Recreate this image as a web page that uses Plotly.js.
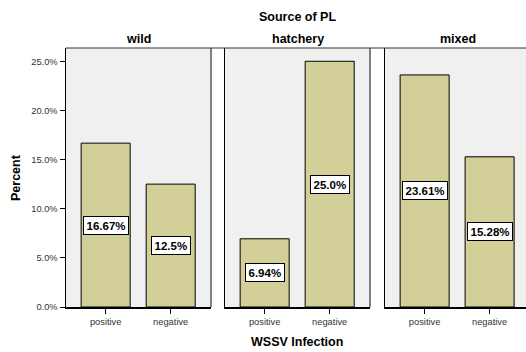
<!DOCTYPE html>
<html><head><meta charset="utf-8">
<script src="https://cdn.plot.ly/plotly-3.0.1.min.js"></script>
<style>html,body{margin:0;padding:0;background:#fff}#c{width:526px;height:352px}</style>
</head><body><div id="c"></div>
<script>
const categories = ["positive", "negative"];
const panels = ["wild", "hatchery", "mixed"];
const wildValues = [16.67, 12.5];
const hatcheryValues = [6.94, 25.0];
const mixedValues = [23.61, 15.28];
const wildLabels = ["16.67%", "12.5%"];
const hatcheryLabels = ["6.94%", "25.0%"];
const mixedLabels = ["23.61%", "15.28%"];
const yTicks = [0, 5, 10, 15, 20, 25];

const W = 526, H = 352;
const FONT = "Arial, 'Liberation Sans', sans-serif";
const px = v => v / W;
const py = v => 1 - v / H;
const xDomains = [[px(66), px(211)], [px(225), px(370)], [px(385), 1]];
const xRanges = [[-0.61, 1.62], [-0.61, 1.62], [-0.61, 1.56]];
const yDom = [py(307), py(48)];
const yRange = [0, 26.35];

const series = [wildValues, hatcheryValues, mixedValues];
const labels = [wildLabels, hatcheryLabels, mixedLabels];

const data = [];
const layout = {
  width: W, height: H,
  margin: {l: 0, r: 0, t: 0, b: 0},
  paper_bgcolor: "#fff",
  plot_bgcolor: "#f0f0f0",
  showlegend: false,
  font: {family: FONT, color: "#000"},
  annotations: [],
  shapes: []
};

series.forEach((vals, i) => {
  const n = i === 0 ? "" : String(i + 1);
  data.push({
    type: "bar", x: categories, y: vals,
    xaxis: "x" + n, yaxis: "y" + n,
    width: 0.754,
    marker: {color: "#d3cf98", line: {color: "#000", width: 1}},
    hoverinfo: "none"
  });
  layout["xaxis" + n] = {
    domain: xDomains[i], range: xRanges[i], type: "category",
    anchor: "y" + n,
    showline: true, linecolor: "#000", linewidth: 1.5,
    ticks: "outside", ticklen: 5, tickcolor: "#000", tickwidth: 1,
    tickfont: {size: 9.3, color: "#333", family: FONT},
    showgrid: false, zeroline: false, fixedrange: true
  };
  layout["yaxis" + n] = {
    domain: yDom, range: yRange, anchor: "x" + n,
    showline: true, linecolor: "#000", linewidth: 1.5,
    tickvals: yTicks, ticktext: yTicks.map(v => v.toFixed(1) + "%"),
    ticks: i === 0 ? "outside" : "", ticklen: 5, tickcolor: "#000",
    showticklabels: i === 0,
    tickfont: {size: 9.3, color: "#333", family: FONT},
    showgrid: false, zeroline: false, fixedrange: true
  };
  vals.forEach((v, j) => {
    layout.annotations.push({
      xref: "x" + n, yref: "y" + n, x: categories[j], y: v / 2,
      text: "<b>" + labels[i][j] + "</b>", showarrow: false,
      bgcolor: "#fff", bordercolor: "#000", borderwidth: 1, borderpad: 2.5,
      font: {size: 11.5, family: FONT, color: "#000"}
    });
  });
  // panel title
  layout.annotations.push({
    xref: "paper", yref: "paper",
    x: (xDomains[i][0] + (i === 2 ? px(530) : xDomains[i][1])) / 2, y: py(39),
    text: "<b>" + panels[i] + "</b>", showarrow: false,
    font: {size: 12.5, family: FONT}, xanchor: "center", yanchor: "middle"
  });
  // right gray border
  if (i < 2) {
    layout.shapes.push({type: "line", xref: "paper", yref: "paper",
      x0: xDomains[i][1], x1: xDomains[i][1], y0: yDom[0], y1: yDom[1],
      line: {color: "#808080", width: 2}});
  }
});
// top border line
layout.shapes.push({type: "line", xref: "paper", yref: "paper",
  x0: xDomains[0][0], x1: 1, y0: yDom[1], y1: yDom[1],
  line: {color: "#333", width: 1}});

layout.annotations.push(
  {xref: "paper", yref: "paper", x: px(297), y: py(17), text: "<b>Source of PL</b>",
   showarrow: false, font: {size: 12.5, family: FONT}, xanchor: "center", yanchor: "middle"},
  {xref: "paper", yref: "paper", x: px(16), y: py(178), text: "<b>Percent</b>", textangle: -90,
   showarrow: false, font: {size: 12.5, family: FONT}, xanchor: "center", yanchor: "middle"},
  {xref: "paper", yref: "paper", x: px(297), y: py(342), text: "<b>WSSV Infection</b>",
   showarrow: false, font: {size: 12.5, family: FONT}, xanchor: "center", yanchor: "middle"}
);

Plotly.newPlot("c", data, layout, {displayModeBar: false, staticPlot: true});
</script></body></html>
